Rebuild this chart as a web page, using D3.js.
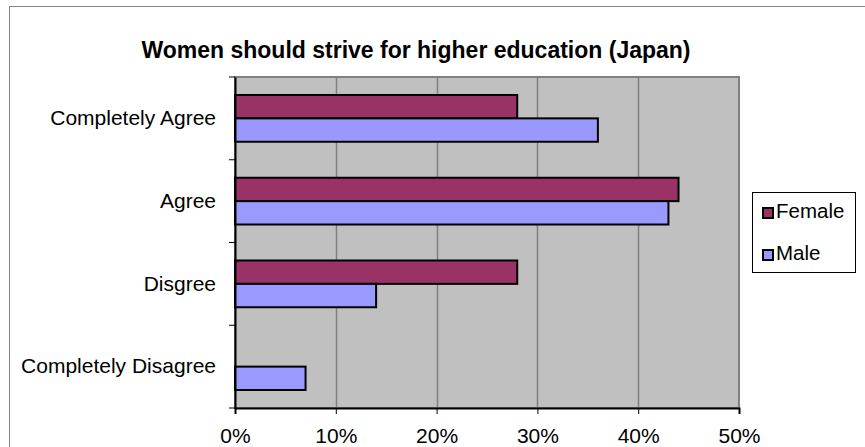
<!DOCTYPE html><meta charset="utf-8">
<title>Women should strive for higher education (Japan)</title>
<style>
  body{margin:0;background:#fff}
  svg{display:block}
  text{font-family:"Liberation Sans",Arial,sans-serif;fill:#000}
</style>
<script src="https://d3js.org/d3.v7.min.js"></script>
<body><script>
const categories = ["Completely Agree", "Agree", "Disgree", "Completely Disagree"];
const seriesNames = ["Female", "Male"];
const female = [28, 44, 28, 0];
const male   = [36, 43, 14, 7];
const xTicks = [0, 10, 20, 30, 40, 50];
const colors = ["#993366", "#9999ff"];

const W = 865, H = 447;
const plot = {left: 235, right: 739, top: 77, bottom: 408};

const svg = d3.select("body").append("svg").attr("width", W).attr("height", H);

// chart frame
svg.append("rect").attr("x", 9.5).attr("y", 6.5).attr("width", W).attr("height", H)
  .attr("fill", "#fff").attr("stroke", "#868686").attr("stroke-width", 1);

const x = d3.scaleLinear().domain([0, 50]).range([plot.left, plot.right]);
const y0 = d3.scaleBand().domain(categories).range([plot.top, plot.bottom]);
const y1 = d3.scaleBand().domain(seriesNames).range([0, y0.bandwidth()])
  .paddingInner(0).paddingOuter(0.77);

/* ---- plot area ---- */
svg.append("rect").attr("x", plot.left).attr("y", plot.top)
  .attr("width", plot.right - plot.left).attr("height", plot.bottom - plot.top)
  .attr("fill", "#c0c0c0").attr("stroke", "#808080").attr("stroke-width", 2);

// gridlines
svg.append("g").selectAll("line").data(xTicks.slice(1, -1)).join("line")
  .attr("x1", d => Math.round(x(d)) + 0.5).attr("x2", d => Math.round(x(d)) + 0.5)
  .attr("y1", plot.top).attr("y2", plot.bottom)
  .attr("stroke", "#808080").attr("stroke-width", 1.5);

/* ---- bars ---- */
const rows = categories.map((c, i) => ({c, vals: [female[i], male[i]]}));
const grp = svg.append("g").selectAll("g").data(rows).join("g")
  .attr("transform", d => `translate(0,${y0(d.c)})`);
grp.selectAll("rect")
  .data(d => d.vals.map((v, j) => ({v, s: seriesNames[j], j})).filter(e => e.v > 0))
  .join("rect")
  .attr("x", x(0)).attr("y", d => y1(d.s))
  .attr("width", d => x(d.v) - x(0)).attr("height", y1.bandwidth())
  .attr("fill", d => colors[d.j]).attr("stroke", "#000").attr("stroke-width", 2);

/* ---- axes ---- */
const xAxis = svg.append("g").attr("transform", `translate(0,${plot.bottom})`)
  .call(d3.axisBottom(x).tickValues(xTicks).tickFormat(d => d + "%").tickSizeOuter(0).tickSize(6).tickPadding(14));
xAxis.select(".domain").attr("stroke", "#000").attr("stroke-width", 2);
xAxis.selectAll("text").attr("font-size", 21).attr("font-family", "Liberation Sans, Arial, sans-serif");

const yAxis = svg.append("g").attr("transform", `translate(${plot.left},0)`)
  .call(d3.axisLeft(y0).tickSize(0).tickPadding(19));
yAxis.select(".domain").attr("stroke", "#000").attr("stroke-width", 2);
yAxis.selectAll("text").attr("font-size", 21).attr("font-family", "Liberation Sans, Arial, sans-serif");

// category boundary ticks
svg.append("g").selectAll("line")
  .data(categories.map(c => y0(c)).concat([plot.bottom]))
  .join("line")
  .attr("x1", plot.left - 6).attr("x2", plot.left)
  .attr("y1", d => d).attr("y2", d => d)
  .attr("stroke", "#000").attr("stroke-width", 1);

/* ---- title ---- */
svg.append("text").attr("x", 416).attr("y", 58).attr("text-anchor", "middle")
  .attr("font-size", 23).attr("font-weight", "bold")
  .text("Women should strive for higher education (Japan)");

/* ---- legend ---- */
const lg = svg.append("g").attr("transform", "translate(752,192)");
lg.append("rect").attr("x", 0.5).attr("y", 0.5).attr("width", 103).attr("height", 80)
  .attr("fill", "#fff").attr("stroke", "#000").attr("stroke-width", 1);
const item = lg.selectAll("g.item").data(seriesNames).join("g").attr("class", "item")
  .attr("transform", (d, i) => `translate(0,${26 + i * 42})`);
item.append("rect").attr("x", 11).attr("y", -10).attr("width", 10).attr("height", 10)
  .attr("fill", (d, i) => colors[i]).attr("stroke", "#000").attr("stroke-width", 2);
item.append("text").attr("x", 24).attr("y", 0).attr("font-size", 20.5).text(d => d);
</script>
